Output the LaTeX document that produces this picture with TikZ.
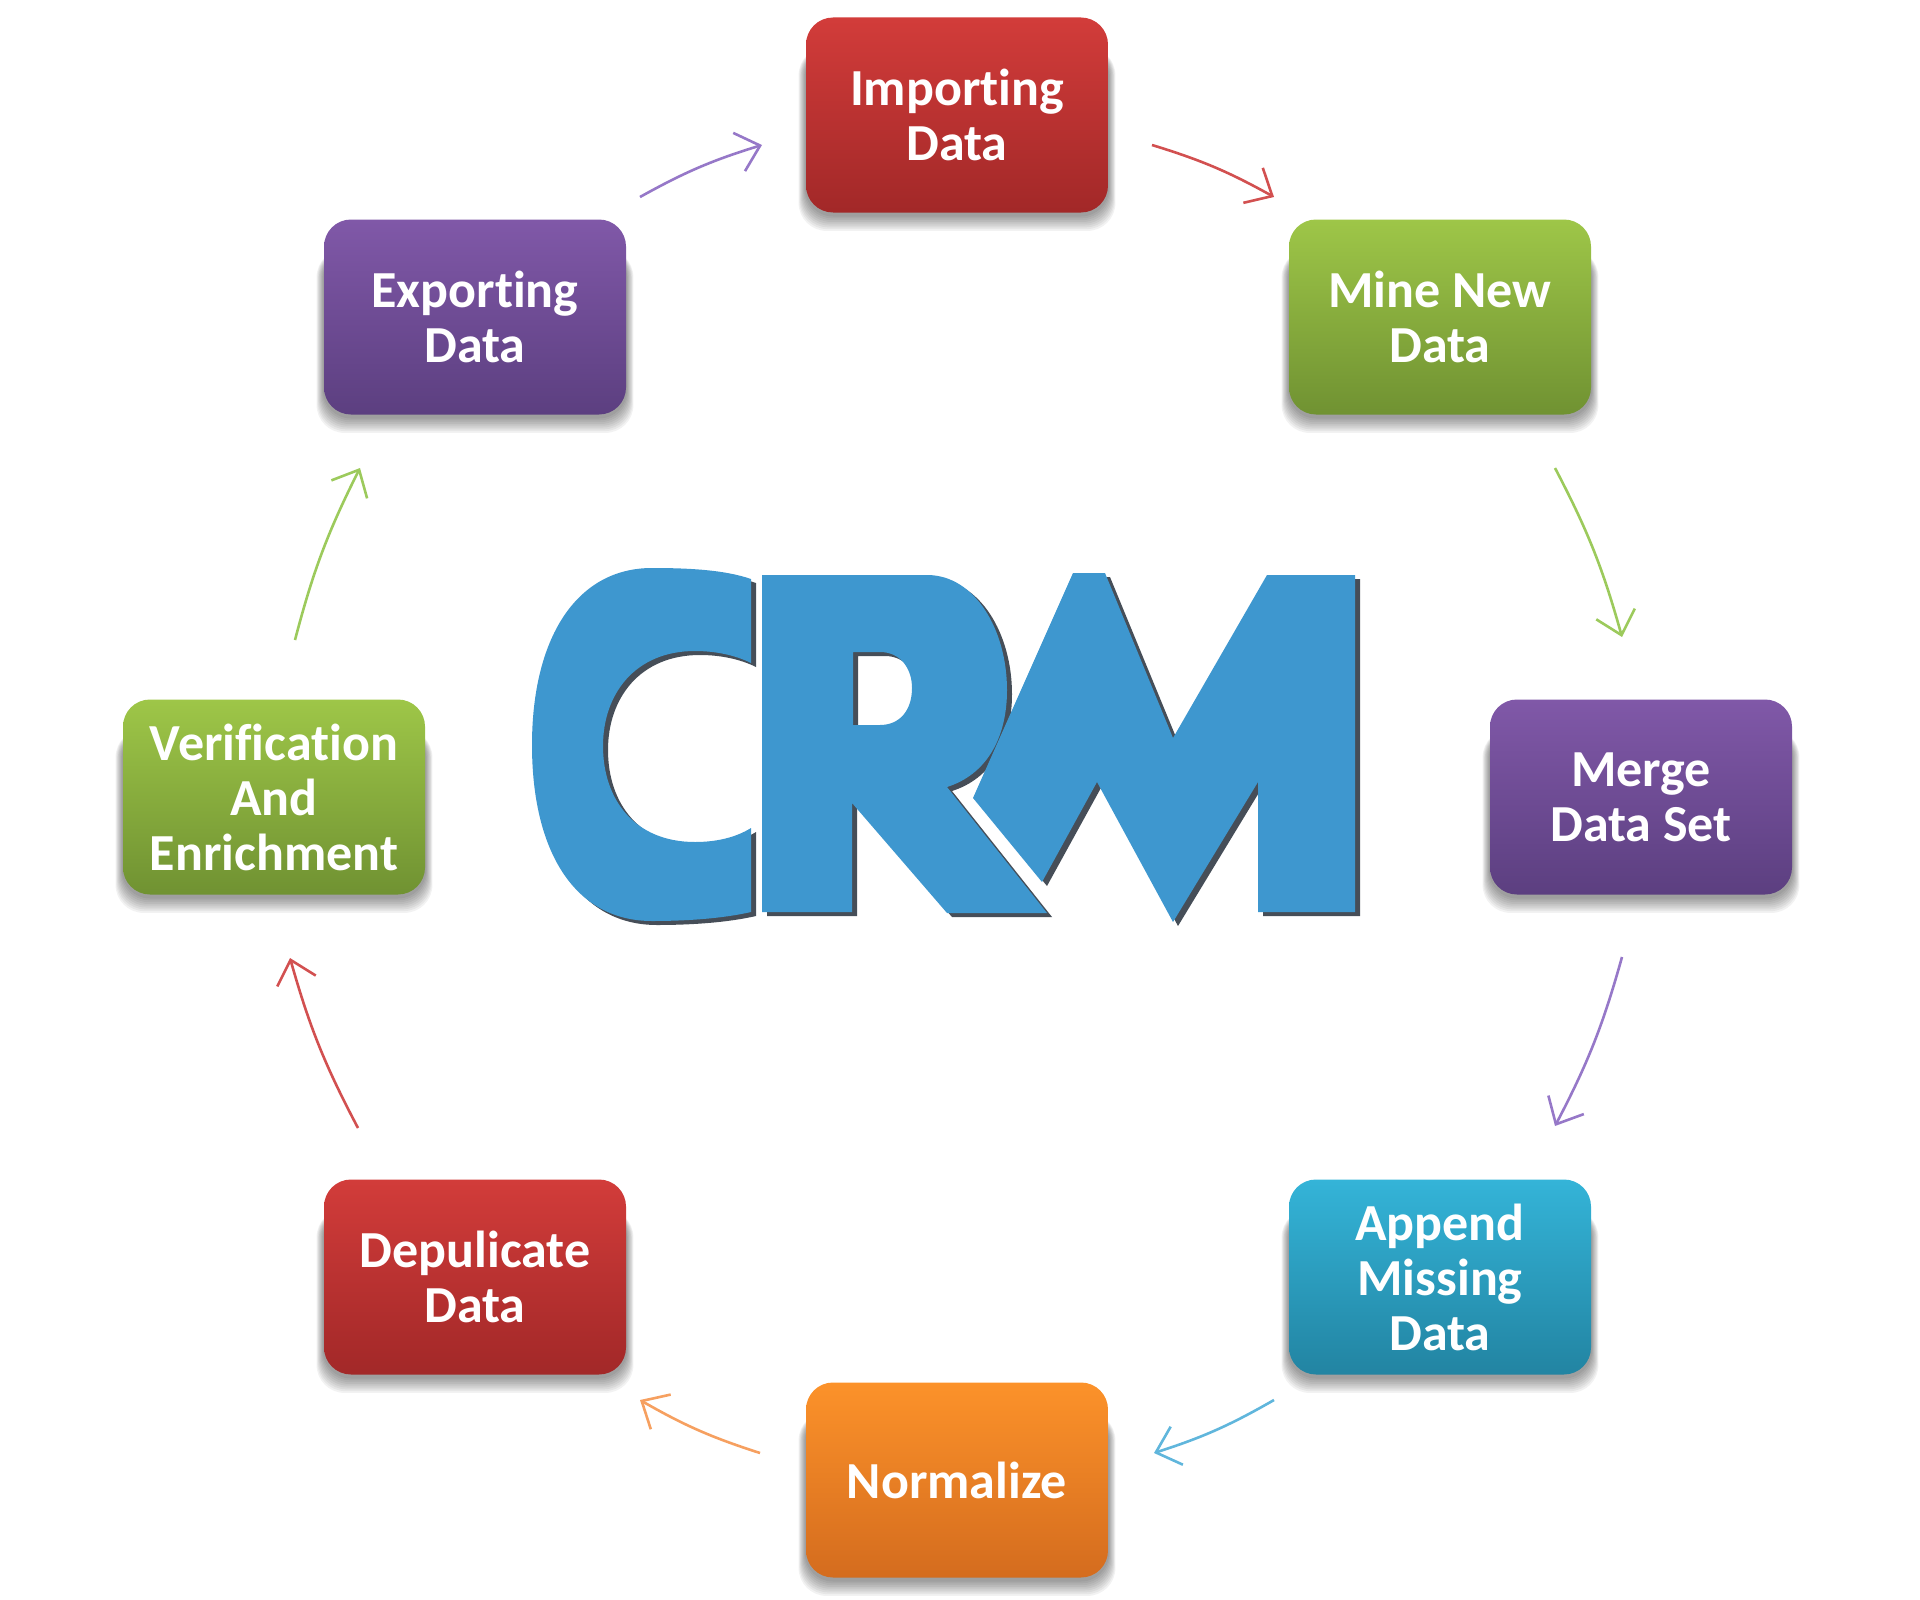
\documentclass[tikz,border=0pt]{standalone}
\usepackage{fontspec}
\setmainfont{Carlito}[Ligatures={NoCommon}, Contextuals={NoAlternate}]
\usetikzlibrary{arrows.meta,backgrounds}
\definecolor{redT}{RGB}{210,60,58}
\definecolor{redB}{RGB}{162,40,40}
\definecolor{grnT}{RGB}{158,198,72}
\definecolor{grnB}{RGB}{112,146,50}
\definecolor{purT}{RGB}{128,88,168}
\definecolor{purB}{RGB}{92,63,128}
\definecolor{cyaT}{RGB}{52,180,216}
\definecolor{cyaB}{RGB}{34,132,162}
\definecolor{oraT}{RGB}{252,146,42}
\definecolor{oraB}{RGB}{212,108,30}
\definecolor{arPur}{RGB}{150,120,200}
\definecolor{arRed}{RGB}{210,80,80}
\definecolor{arGrn}{RGB}{156,202,92}
\definecolor{arCya}{RGB}{96,182,220}
\definecolor{arOra}{RGB}{246,160,96}
\definecolor{crmBlue}{RGB}{62,151,207}
\definecolor{crmShadow}{RGB}{70,78,88}
\tikzset{
  box/.style={rounded corners=27pt, minimum width=302pt, minimum height=195pt,
    align=center, text=white, inner sep=0pt,
    font=\bfseries\fontsize{52}{55}\selectfont},
  redbox/.style={box, top color=redT, bottom color=redB},
  grnbox/.style={box, top color=grnT, bottom color=grnB},
  purbox/.style={box, top color=purT, bottom color=purB},
  cyabox/.style={box, top color=cyaT, bottom color=cyaB},
  orabox/.style={box, top color=oraT, bottom color=oraB},
  arr/.style={line width=2.6pt, -{Straight Barb[length=22pt,width=40pt,line width=2.6pt]}},
}
\newcommand\crmCpath{(751,579) .. controls (725,570) and (690,568) .. (652,568)
  .. controls (575,568) and (532,640) .. (532,745)
  .. controls (532,852) and (575,921) .. (652,921)
  .. controls (690,921) and (725,918) .. (751,912) -- (751,828)
  .. controls (735,838) and (715,842) .. (695,842)
  .. controls (635,842) and (603,800) .. (603,746)
  .. controls (603,694) and (635,651) .. (695,651)
  .. controls (715,651) and (735,655) .. (751,663) -- cycle}
\newcommand\crmRpath{(762,575) -- (927,575) .. controls (975,575) and (1007,630) .. (1007,690)
  .. controls (1007,740) and (985,775) .. (947,787) -- (1047,913) -- (947,913)
  -- (852,803) -- (852,912) -- (762,912) -- cycle
  (853,652) -- (880,652) .. controls (900,652) and (912,668) .. (912,688)
  .. controls (912,710) and (900,725) .. (880,725) -- (853,725) -- cycle}
\newcommand\crmMpath{(1073,573) -- (1105,573) -- (1173,738) -- (1267,575) -- (1355,575)
  -- (1355,912) -- (1258,912) -- (1258,782) -- (1173,922) -- (1097,782)
  -- (1042,882) -- (973,798) -- cycle}
\begin{document}
\begin{tikzpicture}[x=1pt,y=-1pt]
\useasboundingbox (0,0) rectangle (1920,1600);

% CRM logo
\begin{scope}[shift={(5,4)}]
  \fill[crmShadow] \crmCpath;
  \fill[crmShadow,even odd rule] \crmRpath;
  \fill[crmShadow] \crmMpath;
\end{scope}
\fill[crmBlue] \crmCpath;
\fill[crmBlue,even odd rule] \crmRpath;
\fill[crmBlue] \crmMpath;

% boxes
\node[redbox] (imp)   at (957,115)  {Importing\\Data};
\node[grnbox] (mine)  at (1440,317) {Mine New\\Data};
\node[purbox] (merge) at (1641,797) {Merge\\Data Set};
\node[cyabox] (app)   at (1440,1277) {Append\\Missing\\Data};
\node[orabox] (norm)  at (957,1480) {Normalize};
\node[redbox] (dep)   at (475,1277) {Depulicate\\Data};
\node[grnbox] (verif) at (274,797)  {Verification\\And\\Enrichment};
\node[purbox] (exp)   at (475,317)  {Exporting\\Data};

\begin{scope}[on background layer]
\foreach \n in {imp,mine,merge,app,norm,dep,verif,exp}{
  \foreach \d in {1,...,9}{
    \fill[black, opacity=0.05, rounded corners=28pt]
      ([xshift=-0.8pt*\d, yshift=-30pt]\n.north west) rectangle
      ([xshift=0.8pt*\d, yshift=-2pt-1.8pt*\d]\n.south east);
  }
}
\end{scope}

% arrow end points
\coordinate (a1s) at (640,197);  \coordinate (a1e) at (762,145);
\coordinate (a2s) at (1152,145); \coordinate (a2e) at (1274,197);
\coordinate (a3s) at (1555,468); \coordinate (a3e) at (1622,637);
\coordinate (a4s) at (1622,957); \coordinate (a4e) at (1555,1126);
\coordinate (a5s) at (1274,1400); \coordinate (a5e) at (1154,1453);
\coordinate (a6s) at (760,1453); \coordinate (a6e) at (640,1400);
\coordinate (a7s) at (358,1128); \coordinate (a7e) at (290,958);
\coordinate (a8s) at (295,640);  \coordinate (a8e) at (360,468);

\draw[arr, arPur] (a1s) to[bend left=6] (a1e);
\draw[arr, arRed] (a2s) to[bend left=6] (a2e);
\draw[arr, arGrn] (a3s) to[bend left=6] (a3e);
\draw[arr, arPur] (a4s) to[bend left=6] (a4e);
\draw[arr, arCya] (a5s) to[bend left=6] (a5e);
\draw[arr, arOra] (a6s) to[bend left=6] (a6e);
\draw[arr, arRed] (a7s) to[bend left=6] (a7e);
\draw[arr, arGrn] (a8s) to[bend left=6] (a8e);
\end{tikzpicture}
\end{document}
